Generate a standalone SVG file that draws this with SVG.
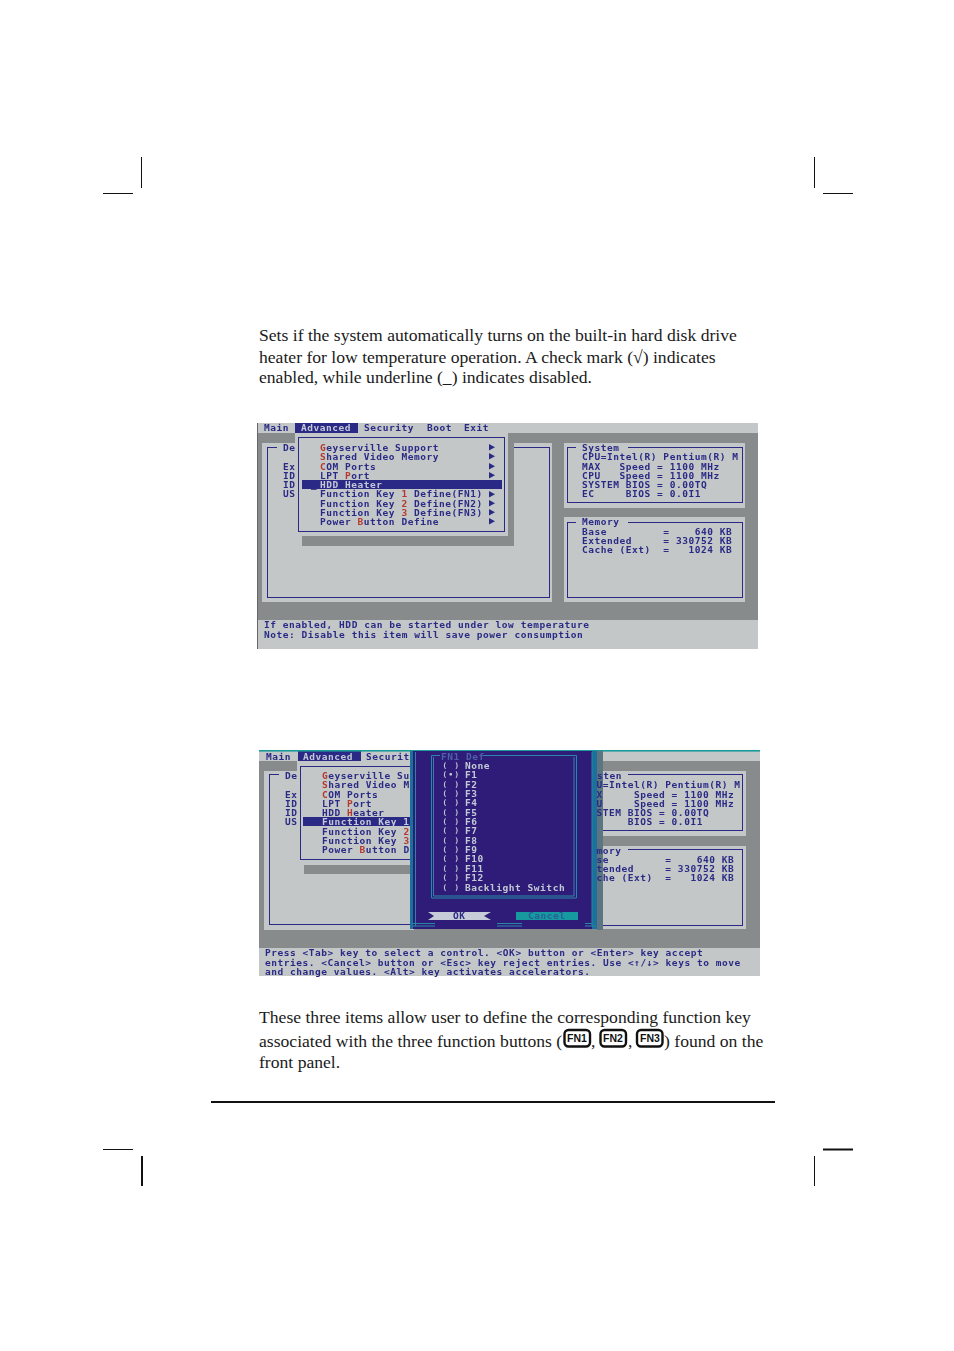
<svg xmlns="http://www.w3.org/2000/svg" width="954" height="1351" viewBox="0 0 954 1351">
<style>
.p{font-family:"Liberation Serif","Times New Roman",serif;font-size:17.63px;fill:#1a1a1a}
.m{font-family:"DejaVu Sans Mono","Liberation Mono",monospace;font-size:9.5px;letter-spacing:.54px;font-weight:700;fill:#2b2b86;white-space:pre}
.rb{font-family:"DejaVu Sans Mono","Liberation Mono",monospace;font-size:7.5px;letter-spacing:1.5px;font-weight:700;fill:#c4c8d6;white-space:pre}
.r{fill:#b5392f}
.w{fill:#c4c8d6}
.lt{fill:#c3c7c7}
.gr{fill:#878b8b}
.f{fill:none;stroke:#2b2b86;stroke-width:1}
.t{fill:none;stroke:#2a86a8;stroke-width:1}
.k{stroke:#111;fill:none}
.key{fill:#fff;stroke:#111;stroke-width:2.4}
.kt{font-family:"Liberation Sans",Arial,sans-serif;font-size:10.5px;font-weight:700;fill:#111}
</style>
<defs>
<filter id="soft" x="0" y="0" width="1" height="1"><feGaussianBlur stdDeviation="0.35"/></filter>
<polygon id="ar" points="0,0 6,3.2 0,6.4" fill="#2b2b86"/>
</defs>
<rect width="954" height="1351" fill="#fff"/>
<g id="crop-marks" class="k">
<path d="M141.5 157V188M103 193.5H133M814.5 157V188M823 193.5H853M103 1149.5H133M814.5 1156V1186"/>
<path d="M142 1156V1186M823 1149.5H853" stroke-width="2"/>
</g>
<g id="text-top">
<text class="p" x="259" y="341">Sets if the system automatically turns on the built-in hard disk drive</text>
<text class="p" x="259" y="363">heater for low temperature operation. A check mark (√) indicates</text>
<text class="p" x="259" y="383">enabled, while underline (_) indicates disabled.</text>
</g>
<g id="screen-1" filter="url(#soft)">
<rect class="lt" x="257" y="423" width="501" height="226"/>
<rect class="gr" x="257" y="433" width="501" height="187"/>
<rect class="lt" x="262" y="443" width="290" height="159"/>
<rect class="f" x="267.5" y="447.5" width="282" height="150"/>
<rect class="lt" x="277" y="444" width="21" height="8"/>
<rect class="lt" x="564" y="443" width="181" height="65"/>
<rect class="f" x="567.5" y="447.5" width="175" height="55"/>
<rect class="lt" x="576" y="445" width="52" height="5"/>
<rect class="lt" x="564" y="517" width="181" height="85"/>
<rect class="f" x="567.5" y="522.5" width="175" height="75"/>
<rect class="lt" x="576" y="520" width="52" height="5"/>
<rect class="gr" x="302" y="441" width="212" height="105"/>
<rect class="lt" x="295" y="433" width="213" height="103"/>
<rect class="f" x="298.5" y="437.5" width="206" height="94"/>
<rect x="295" y="423" width="63" height="10" fill="#2b2b86"/>
<rect x="302" y="480" width="200" height="9" fill="#2b2b86"/>
<rect x="257" y="423" width="1" height="226" fill="#666"/>
<text class="m" x="264" y="431">Main</text>
<text class="m w" x="301" y="431">Advanced</text>
<text class="m" x="364" y="431">Security</text>
<text class="m" x="427" y="431">Boot</text>
<text class="m" x="464" y="431">Exit</text>
<text class="m" x="283" y="451">De</text>
<text class="m" x="283" y="470">Ex</text>
<text class="m" x="283" y="479">ID</text>
<text class="m" x="283" y="488">ID</text>
<text class="m" x="283" y="497">US</text>
<text class="m" x="320" y="451"><tspan class="r">G</tspan>eyserville Support</text>
<text class="m" x="320" y="460"><tspan class="r">S</tspan>hared Video Memory</text>
<text class="m" x="320" y="470"><tspan class="r">C</tspan>OM Ports</text>
<text class="m" x="320" y="479">LPT <tspan class="r">P</tspan>ort</text>
<text class="m w" x="320" y="488">HDD Heater</text>
<text class="m" x="311" y="488">_</text>
<text class="m" x="320" y="497">Function Key <tspan class="r">1</tspan> Define(FN1)</text>
<text class="m" x="320" y="507">Function Key <tspan class="r">2</tspan> Define(FN2)</text>
<text class="m" x="320" y="516">Function Key <tspan class="r">3</tspan> Define(FN3)</text>
<text class="m" x="320" y="525">Power <tspan class="r">B</tspan>utton Define</text>
<use href="#ar" x="489" y="444"/><use href="#ar" x="489" y="453"/><use href="#ar" x="489" y="463"/><use href="#ar" x="489" y="472"/><use href="#ar" x="489" y="491"/><use href="#ar" x="489" y="500"/><use href="#ar" x="489" y="509"/><use href="#ar" x="489" y="518"/>
<text class="m" x="582" y="451">System</text>
<text class="m" x="582" y="460">CPU=Intel(R) Pentium(R) M</text>
<text class="m" x="582" y="470">MAX   Speed = 1100 MHz</text>
<text class="m" x="582" y="479">CPU   Speed = 1100 MHz</text>
<text class="m" x="582" y="488">SYSTEM BIOS = 0.00TQ</text>
<text class="m" x="582" y="497">EC     BIOS = 0.0I1</text>
<text class="m" x="582" y="525">Memory</text>
<text class="m" x="582" y="535">Base         =    640 KB</text>
<text class="m" x="582" y="544">Extended     = 330752 KB</text>
<text class="m" x="582" y="553">Cache (Ext)  =   1024 KB</text>
<text class="m" x="264" y="628">If enabled, HDD can be started under low temperature</text>
<text class="m" x="264" y="638">Note: Disable this item will save power consumption</text>
</g>
<g id="screen-2" filter="url(#soft)">
<rect class="lt" x="259" y="750" width="501" height="226"/>
<rect class="gr" x="259" y="761" width="501" height="187"/>
<rect class="lt" x="264" y="771" width="150" height="159"/>
<rect class="f" x="269.5" y="774.5" width="150" height="150"/>
<rect class="lt" x="279" y="772" width="21" height="8"/>
<rect class="lt" x="597" y="771" width="149" height="65"/>
<rect class="f" x="590.5" y="774.5" width="152" height="56"/>
<rect class="lt" x="597" y="772" width="31" height="5"/>
<rect class="lt" x="597" y="846" width="149" height="83"/>
<rect class="f" x="590.5" y="849.5" width="152" height="76"/>
<rect class="lt" x="597" y="847" width="31" height="5"/>
<rect class="gr" x="304" y="865" width="110" height="9"/>
<rect class="lt" x="297" y="761" width="120" height="104"/>
<rect class="f" x="300.5" y="766.5" width="120" height="93"/>
<rect x="298" y="751" width="63" height="10" fill="#2b2b86"/>
<rect x="303" y="817" width="110" height="9" fill="#2b2b86"/>
<rect x="259" y="750" width="501" height="1.6" fill="#1d9a9a"/>
<text class="m" x="266" y="760">Main</text>
<text class="m w" x="303" y="760">Advanced</text>
<text class="m" x="366" y="760">Security</text>
<text class="m" x="285" y="779">De</text>
<text class="m" x="285" y="798">Ex</text>
<text class="m" x="285" y="807">ID</text>
<text class="m" x="285" y="816">ID</text>
<text class="m" x="285" y="825">US</text>
<text class="m" x="322" y="779"><tspan class="r">G</tspan>eyserville Support</text>
<text class="m" x="322" y="788"><tspan class="r">S</tspan>hared Video Memory</text>
<text class="m" x="322" y="798"><tspan class="r">C</tspan>OM Ports</text>
<text class="m" x="322" y="807">LPT <tspan class="r">P</tspan>ort</text>
<text class="m" x="322" y="816">HDD <tspan class="r">H</tspan>eater</text>
<text class="m" x="313" y="816">_</text>
<text class="m w" x="322" y="825">Function Key 1</text>
<text class="m" x="322" y="835">Function Key <tspan class="r">2</tspan></text>
<text class="m" x="322" y="844">Function Key <tspan class="r">3</tspan></text>
<text class="m" x="322" y="853">Power <tspan class="r">B</tspan>utton Define</text>
<rect x="597" y="751" width="6" height="179" fill="#5d7480"/>
<rect x="410" y="751" width="187" height="178" fill="#2d1f78"/>
<rect x="410" y="751" width="3" height="178" fill="#1d6f9c"/>
<rect x="592" y="751" width="5" height="178" fill="#1d6f9c"/>
<path class="t" d="M415.5 752V926M592 752V926"/>
<path class="t" d="M431.5 755.5H440M483 755.5H576.5V898H431.5V755.5M433.5 757V896H574V757"/>
<path class="t" d="M412 926H435M497 926H522M585 926H596M412 923.5H435M497 923.5H522M585 923.5H592"/>
<text class="m" x="441" y="760" style="fill:#4f5fa8">FN1 Def</text>
<text class="rb" x="442.5" y="768">( )</text><text class="m w" x="465" y="769">None</text>
<text class="rb" x="442.5" y="777">(•)</text><text class="m w" x="465" y="778">F1</text>
<text class="rb" x="442.5" y="787">( )</text><text class="m w" x="465" y="788">F2</text>
<text class="rb" x="442.5" y="796">( )</text><text class="m w" x="465" y="797">F3</text>
<text class="rb" x="442.5" y="805">( )</text><text class="m w" x="465" y="806">F4</text>
<text class="rb" x="442.5" y="815">( )</text><text class="m w" x="465" y="816">F5</text>
<text class="rb" x="442.5" y="824">( )</text><text class="m w" x="465" y="825">F6</text>
<text class="rb" x="442.5" y="833">( )</text><text class="m w" x="465" y="834">F7</text>
<text class="rb" x="442.5" y="843">( )</text><text class="m w" x="465" y="844">F8</text>
<text class="rb" x="442.5" y="852">( )</text><text class="m w" x="465" y="853">F9</text>
<text class="rb" x="442.5" y="861">( )</text><text class="m w" x="465" y="862">F10</text>
<text class="rb" x="442.5" y="871">( )</text><text class="m w" x="465" y="872">F11</text>
<text class="rb" x="442.5" y="880">( )</text><text class="m w" x="465" y="881">F12</text>
<text class="rb" x="442.5" y="890">( )</text><text class="m w" x="465" y="891">Backlight Switch</text>
<polygon points="428,912 491,912 491,920 428,920 434,916" fill="#c8ccd8"/>
<polygon points="491,912 491,920 484,916" fill="#2d1f78"/>
<text class="m" x="453" y="919">OK</text>
<rect x="516" y="912" width="62" height="8" fill="#129aa0"/>
<text class="m" x="528" y="919" style="fill:#2b5f96">Cancel</text>
<text class="m" x="597" y="779">sten</text>
<text class="m" x="596.5" y="788">U=Intel(R) Pentium(R) M</text>
<text class="m" x="596.5" y="798">X     Speed = 1100 MHz</text>
<text class="m" x="596.5" y="807">U     Speed = 1100 MHz</text>
<text class="m" x="596.5" y="816">STEM BIOS = 0.00TQ</text>
<text class="m" x="596.5" y="825">     BIOS = 0.0I1</text>
<text class="m" x="596.5" y="854">mory</text>
<text class="m" x="596.5" y="863">se         =    640 KB</text>
<text class="m" x="596.5" y="872">tended     = 330752 KB</text>
<text class="m" x="596.5" y="881">che (Ext)  =   1024 KB</text>
<text class="m" x="265" y="956">Press &lt;Tab&gt; key to select a control. &lt;OK&gt; button or &lt;Enter&gt; key accept</text>
<text class="m" x="265" y="966">entries. &lt;Cancel&gt; button or &lt;Esc&gt; key reject entries. Use &lt;↑/↓&gt; keys to move</text>
<text class="m" x="265" y="975">and change values. &lt;Alt&gt; key activates accelerators.</text>
</g>
<g id="text-bottom">
<text class="p" x="259" y="1023">These three items allow user to define the corresponding function key</text>
<text class="p" x="259" y="1047">associated with the three function buttons (</text>
<text class="p" x="591" y="1047">,</text>
<text class="p" x="628" y="1047">,</text>
<text class="p" x="664" y="1047">) found on the</text>
<text class="p" x="259" y="1068">front panel.</text>
</g>
<g id="key-fn1"><rect class="key" x="564.5" y="1030" width="25.5" height="16.5" rx="4"/><text class="kt" x="577" y="1042" text-anchor="middle">FN1</text></g>
<g id="key-fn2"><rect class="key" x="600.5" y="1030" width="25.5" height="16.5" rx="4"/><text class="kt" x="613" y="1042" text-anchor="middle">FN2</text></g>
<g id="key-fn3"><rect class="key" x="637" y="1030" width="25.5" height="16.5" rx="4"/><text class="kt" x="650" y="1042" text-anchor="middle">FN3</text></g>
<rect id="rule" x="211" y="1101" width="564" height="2" fill="#111"/>
</svg>
